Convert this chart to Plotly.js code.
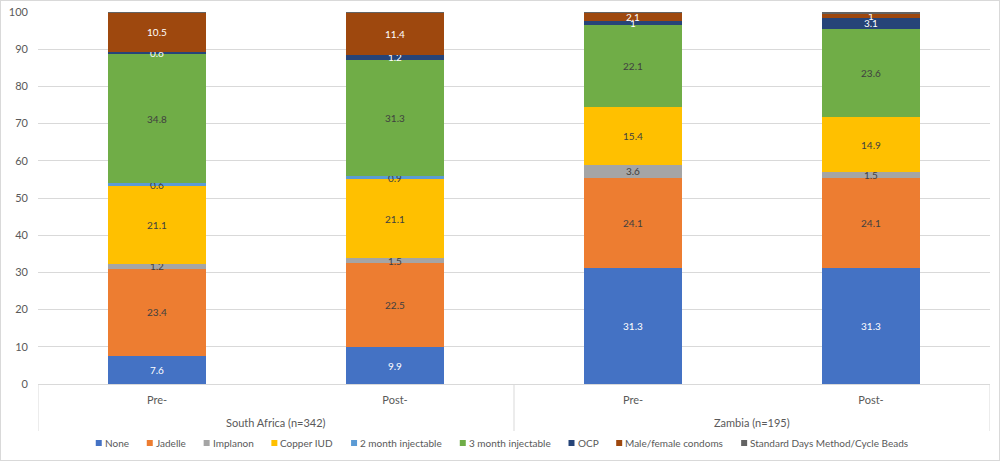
<!DOCTYPE html>
<html>
<head>
<meta charset="utf-8">
<script src="https://cdn.plot.ly/plotly-3.0.1.min.js"></script>
<style>
html,body{margin:0;padding:0;background:#fff;}
#chart{width:1000px;height:461px;position:relative;}
#frame{position:absolute;left:0;top:0;width:998px;height:459px;border:1px solid #d9d9d9;pointer-events:none;}
</style>
</head>
<body>
<div id="chart"></div>
<div id="frame"></div>
<script>
var countries = ["South Africa (n=342)", "South Africa (n=342)", "Zambia (n=195)", "Zambia (n=195)"];
var periods = ["Pre-", "Post-", "Pre-", "Post-"];
var groupLabels = ["South Africa (n=342)", "Zambia (n=195)"];

var seriesNames = ["None", "Jadelle", "Implanon", "Copper IUD", "2 month injectable", "3 month injectable", "OCP", "Male/female condoms", "Standard Days Method/Cycle Beads"];
var none = [7.6, 9.9, 31.3, 31.3];
var jadelle = [23.4, 22.5, 24.1, 24.1];
var implanon = [1.2, 1.5, 3.6, 1.5];
var copperIUD = [21.1, 21.1, 15.4, 14.9];
var inj2 = [0.6, 0.9, 0, 0];
var inj3 = [34.8, 31.3, 22.1, 23.6];
var ocp = [0.6, 1.2, 1, 3.1];
var condoms = [10.5, 11.4, 2.1, 1];
var sdm = [0.3, 0.3, 0.4, 0.5];

var colors = ["#4472C4", "#ED7D31", "#A5A5A5", "#FFC000", "#5B9BD5", "#70AD47", "#264478", "#9E480E", "#636363"];
var textColors = ["#ffffff", "#404040", "#404040", "#404040", "#404040", "#404040", "#ffffff", "#ffffff", "#ffffff"];
var showLabels = [true, true, true, true, true, true, true, true, false];
var allSeries = [none, jadelle, implanon, copperIUD, inj2, inj3, ocp, condoms, sdm];

var FONT = "Lato, 'Open Sans', sans-serif";
var xcats = countries.map(function(c, i) { return c + " | " + periods[i]; });

var traces = allSeries.map(function(vals, i) {
  return {
    type: "bar",
    name: seriesNames[i],
    x: xcats,
    y: vals,
    marker: {color: colors[i], line: {width: 0}},
    text: vals.map(function(v) { return (showLabels[i] && v > 0) ? String(v) : ""; }),
    textposition: "inside",
    insidetextanchor: "middle",
    constraintext: "none",
    textangle: 0,
    textfont: {family: FONT, size: 10, color: textColors[i]},
    hoverinfo: "name+y",
    showlegend: false
  };
});

// plot-area geometry (pixels)
var W = 1000, H = 461;
var plotLeft = 38, plotRight = 990, plotTop = 12, plotBottom = 384;
var plotW = plotRight - plotLeft, plotH = plotBottom - plotTop;
function px(pixelX) { return (pixelX - plotLeft) / plotW; }
function py(pixelY) { return (plotBottom - pixelY) / plotH; }

var annotations = groupLabels.map(function(g, k) {
  return {
    text: g,
    xref: "x",
    yref: "paper",
    x: 0.5 + 2 * k,
    y: py(423),
    xanchor: "center",
    yanchor: "middle",
    showarrow: false,
    font: {family: FONT, size: 11, color: "#595959"}
  };
});

var dividerPositions = [-0.5, 1.5, 3.5];
var shapes = dividerPositions.map(function(p) {
  return {
    type: "line",
    xref: "x",
    yref: "paper",
    x0: p, x1: p,
    y0: 0, y1: py(431),
    line: {color: "#d9d9d9", width: 1}
  };
});

// legend row (Excel style: small square, short gap, label)
var ctx = document.createElement("canvas").getContext("2d");
ctx.font = "10px Lato";
var markerSize = 6, markerGap = 3, itemGap = 18, legendY = 443, legendCenter = 502;
var textWidths = seriesNames.map(function(n) { return ctx.measureText(n).width; });
var totalW = textWidths.reduce(function(a, w) { return a + markerSize + markerGap + w + itemGap; }, 0) - itemGap;
var cursor = legendCenter - totalW / 2;
seriesNames.forEach(function(n, i) {
  shapes.push({
    type: "rect",
    xref: "paper", yref: "paper",
    x0: px(cursor), x1: px(cursor + markerSize),
    y0: py(legendY + markerSize / 2), y1: py(legendY - markerSize / 2),
    fillcolor: colors[i],
    line: {width: 0}
  });
  annotations.push({
    text: n,
    xref: "paper", yref: "paper",
    x: px(cursor + markerSize + markerGap),
    y: py(legendY),
    xanchor: "left", yanchor: "middle",
    showarrow: false,
    borderpad: 0, borderwidth: 0,
    font: {family: FONT, size: 10, color: "#595959"}
  });
  cursor += markerSize + markerGap + textWidths[i] + itemGap;
});

var layout = {
  width: W,
  height: H,
  barmode: "stack",
  bargap: 0.59,
  margin: {l: plotLeft, r: W - plotRight, t: plotTop, b: H - plotBottom, autoexpand: false},
  paper_bgcolor: "#ffffff",
  plot_bgcolor: "#ffffff",
  font: {family: FONT, color: "#595959", size: 11},
  showlegend: false,
  yaxis: {
    range: [0, 100],
    dtick: 10,
    showgrid: true,
    gridcolor: "#d9d9d9",
    gridwidth: 1,
    zeroline: false,
    showline: false,
    ticks: "",
    ticklabelstandoff: 9,
    tickfont: {size: 11, color: "#595959"},
    fixedrange: true
  },
  xaxis: {
    type: "category",
    range: [-0.5, 3.5],
    tickvals: xcats,
    ticktext: periods,
    showline: true,
    linecolor: "#d9d9d9",
    ticks: "outside",
    ticklen: 6,
    tickcolor: "rgba(0,0,0,0)",
    tickfont: {size: 11, color: "#595959"},
    fixedrange: true
  },
  annotations: annotations,
  shapes: shapes
};

Plotly.newPlot("chart", traces, layout, {displayModeBar: false, staticPlot: true});
</script>
</body>
</html>
